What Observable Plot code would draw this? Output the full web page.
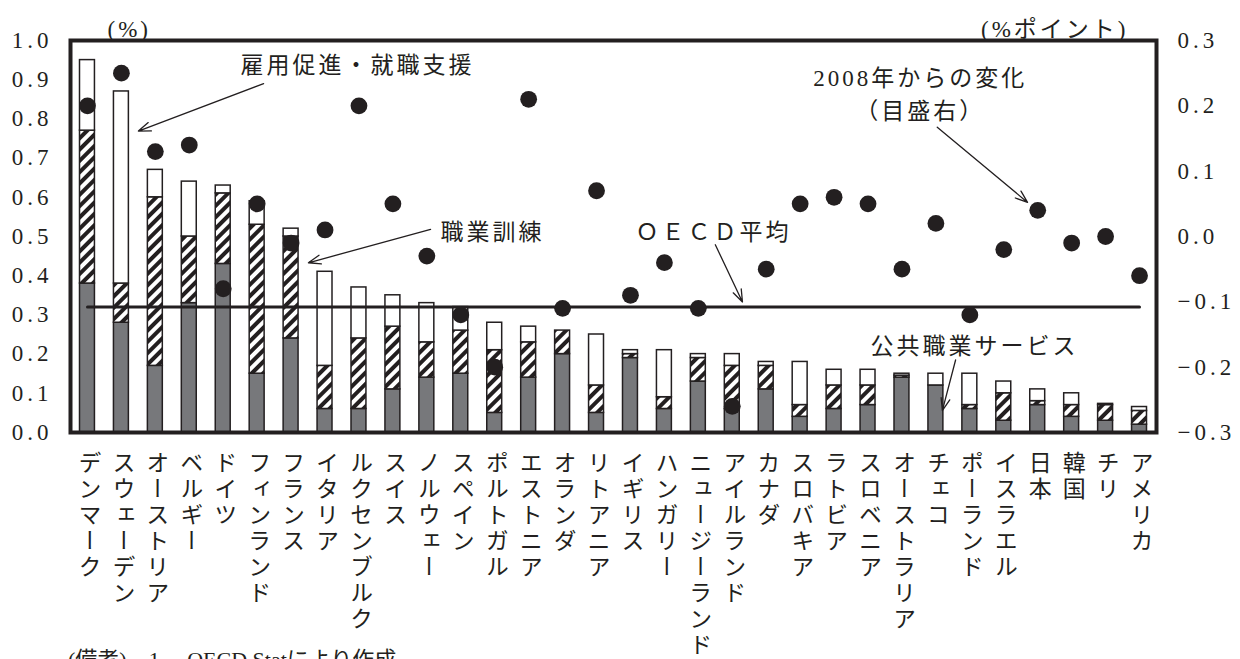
<!DOCTYPE html>
<html><head><meta charset="utf-8">
<script src="https://cdn.jsdelivr.net/npm/d3@7"></script>
<script src="https://cdn.jsdelivr.net/npm/@observablehq/plot@0.6"></script>
<style>
body{margin:0;background:#fff;}
#chart svg{overflow:visible;display:block;}
#note{font-family:"Liberation Serif","Noto Sans CJK JP",serif;font-size:22px;color:#231f20;margin:0 0 0 68px;line-height:24px;white-space:pre;}
</style></head><body><div id="chart"></div><div id="note">(備考)　1.　OECD.Statにより作成</div>
<script>
const countries = ["デンマーク","スウェーデン","オーストリア","ベルギー","ドイツ","フィンランド","フランス","イタリア","ルクセンブルク","スイス","ノルウェー","スペイン","ポルトガル","エストニア","オランダ","リトアニア","イギリス","ハンガリー","ニュージーランド","アイルランド","カナダ","スロバキア","ラトビア","スロベニア","オーストラリア","チェコ","ポーランド","イスラエル","日本","韓国","チリ","アメリカ"];
const publicService = [0.38,0.28,0.17,0.33,0.43,0.15,0.24,0.06,0.06,0.11,0.14,0.15,0.05,0.14,0.20,0.05,0.19,0.06,0.13,0.06,0.11,0.04,0.06,0.07,0.14,0.12,0.06,0.03,0.07,0.04,0.03,0.02];
const training = [0.39,0.10,0.43,0.17,0.18,0.38,0.26,0.11,0.18,0.16,0.09,0.11,0.16,0.09,0.06,0.07,0.01,0.03,0.06,0.11,0.06,0.03,0.06,0.05,0.005,0,0.01,0.07,0.01,0.03,0.04,0.035];
const employment = [0.18,0.49,0.07,0.14,0.02,0.06,0.02,0.24,0.13,0.08,0.10,0.06,0.07,0.04,0,0.13,0.01,0.12,0.01,0.03,0.01,0.11,0.04,0.04,0.005,0.03,0.08,0.03,0.03,0.03,0.003,0.01];
const change2008 = [0.20,0.25,0.13,0.14,-0.08,0.05,-0.01,0.01,0.20,0.05,-0.03,-0.12,-0.20,0.21,-0.11,0.07,-0.09,-0.04,-0.11,-0.26,-0.05,0.05,0.06,0.05,-0.05,0.02,-0.12,-0.02,0.04,-0.01,0.00,-0.06];
const oecdAverage = 0.32;
const leftTicks = [0,0.1,0.2,0.3,0.4,0.5,0.6,0.7,0.8,0.9,1.0];
const rightTicks = [-0.3,-0.2,-0.1,0,0.1,0.2,0.3];
const leftUnit = "(%)";
const rightUnit = "(%ポイント)";

const annLabels = ["雇用促進・就職支援","職業訓練","ＯＥＣＤ平均","2008年からの変化","（目盛右）","公共職業サービス"];
const annX = [5.01,10.90,16.65,25.04,25.04,23.57];
const annY = [0.936,0.51,0.51,0.903,0.818,0.218];
const annAnchor = ["start","start","start","middle","middle","start"];
const arrowFrom = [[5.69,0.890],[10.61,0.518],[19.0,0.479],[25.54,0.779],[26.08,0.185]];
const arrowTo = [[2.00,0.769],[7.01,0.433],[19.80,0.333],[28.20,0.587],[25.69,0.056]];

const ink = "#231f20";
const gray = "#77787b";
const rMin = rightTicks[0], rMax = rightTicks[rightTicks.length-1];
const toLeft = r => (r - rMin) / (rMax - rMin);

const rows = countries.map((name, i) => ({name, i, g: publicService[i], h: training[i], w: employment[i], r: change2008[i]}));
const seg = (key, lo) => rows.map(d => ({i: d.i, y1: lo(d), y2: lo(d) + d[key]})).filter(d => d.y2 - d.y1 > 0);
const grayRects = seg("g", d => 0);
const hatchRects = seg("h", d => d.g);
const whiteRects = seg("w", d => d.g + d.h);

const anns = annLabels.map((t, k) => ({t, x: annX[k], y: annY[k], a: annAnchor[k]}));
const arrows = arrowFrom.map((f, k) => ({x1: f[0], y1: f[1], x2: arrowTo[k][0], y2: arrowTo[k][1]}));
const avgLine = [{x: 0.5, y: oecdAverage}, {x: countries.length - 0.5, y: oecdAverage}];

const serif = "'Liberation Serif','Noto Sans CJK JP',serif";
const jp = "'Liberation Serif','Noto Sans CJK JP',sans-serif";
const barOpts = {x1: d => d.i, x2: d => d.i + 1, y1: "y1", y2: "y2", stroke: ink, strokeWidth: 1.5, insetLeft: 9.5, insetRight: 9.5};
const fmtLeft = d => d.toFixed(1);
const fmtRight = d => (d < 0 ? "−" : "") + Math.abs(d).toFixed(1);

const svg = Plot.plot({
  width: 1240, height: 648,
  marginTop: 40, marginBottom: 216, marginLeft: 70, marginRight: 84,
  x: {domain: [0, countries.length], axis: null},
  y: {domain: [0, 1], axis: null},
  style: {background: "white", color: ink, fontFamily: jp},
  marks: [
    Plot.rect(grayRects, {...barOpts, fill: gray}),
    Plot.rect(hatchRects, {...barOpts, fill: "url(#hatch)"}),
    Plot.rect(whiteRects, {...barOpts, fill: "white"}),
    Plot.line(avgLine, {x: "x", y: "y", stroke: ink, strokeWidth: 3}),
    Plot.dot(rows, {x: d => d.i + 0.5, y: d => toLeft(d.r), r: 8.4, fill: ink, stroke: "none"}),
    Plot.arrow(arrows, {x1: "x1", y1: "y1", x2: "x2", y2: "y2", stroke: ink, strokeWidth: 1.3, headLength: 15, headAngle: 40}),
    Plot.text(anns.filter(d => d.a === "middle"), {x: "x", y: "y", text: "t", textAnchor: "middle", fontSize: 23, fill: ink, fontFamily: jp}),
    Plot.text(anns.filter(d => d.a === "start"), {x: "x", y: "y", text: "t", textAnchor: "start", fontSize: 23, fill: ink, fontFamily: jp}),
    Plot.frame({stroke: ink, strokeWidth: 4}),
    Plot.text(leftTicks, {y: d => d, text: fmtLeft, frameAnchor: "left", dx: -18, textAnchor: "end", fontSize: 23, fill: ink, fontFamily: serif}),
    Plot.text(rightTicks, {y: d => toLeft(d), text: fmtRight, frameAnchor: "right", dx: 21, textAnchor: "start", fontSize: 23, fill: ink, fontFamily: serif}),
    Plot.text([leftUnit], {frameAnchor: "top-left", dx: 37, dy: -20, textAnchor: "start", fontSize: 23, fill: ink, fontFamily: jp}),
    Plot.text([rightUnit], {frameAnchor: "top-right", dx: -28, dy: -20, textAnchor: "end", fontSize: 23, fill: ink, fontFamily: jp}),
    Plot.text(rows, {x: d => d.i + 0.5, text: "name", frameAnchor: "bottom", dy: 18.5, textAnchor: "start", fontSize: 23, fill: ink, fontFamily: jp})
  ]
});

// hatch pattern
const defs = d3.select(svg).insert("defs", ":first-child");
const pat = defs.append("pattern").attr("id", "hatch").attr("patternUnits", "userSpaceOnUse")
  .attr("width", 8).attr("height", 8).attr("patternTransform", "rotate(45)");
pat.append("rect").attr("width", 8).attr("height", 8).attr("fill", "white");
pat.append("rect").attr("width", 4).attr("height", 8).attr("fill", ink);

// text styling by content
const countrySet = new Set(countries);
const tickSet = new Set([...leftTicks.map(fmtLeft), ...rightTicks.map(fmtRight)]);
d3.select(svg).selectAll("text").each(function () {
  const t = this.textContent;
  const s = d3.select(this);
  if (countrySet.has(t)) {
    s.attr("y", null).attr("dy", null)
     .attr("writing-mode", "tb")
     .style("writing-mode", "vertical-rl")
     .style("text-orientation", "mixed")
     .style("letter-spacing", "3px");
  } else if (tickSet.has(t)) {
    s.style("letter-spacing", "4px");
  } else {
    s.style("letter-spacing", "3px");
  }
});

document.getElementById("chart").appendChild(svg);
</script></body></html>
